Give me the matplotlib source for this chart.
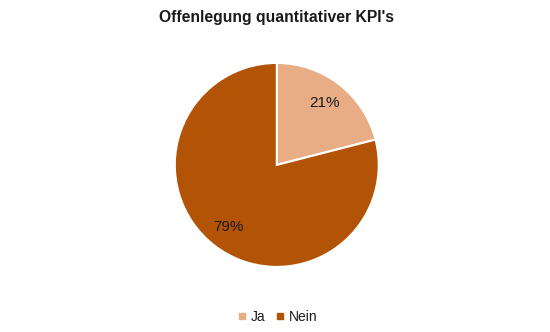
import matplotlib.pyplot as plt
from matplotlib.lines import Line2D

plt.rcParams['font.family'] = ['Liberation Sans', 'DejaVu Sans']

labels = ['Ja', 'Nein']
shares = [21, 79]
colors = ['#E8AD84', '#B35306']

fig = plt.figure(figsize=(5.5, 3.32), dpi=100)
ax = fig.add_axes([0.316, 0.193, 0.3745, 0.6205])

ax.pie(shares, colors=colors, startangle=90, counterclock=False,
       autopct='%d%%', pctdistance=0.77,
       wedgeprops={'edgecolor': 'white', 'linewidth': 1.5},
       textprops={'fontsize': 11, 'color': '#1a1a1a'})
ax.set_xlim(-1.01, 1.01)
ax.set_ylim(-1.01, 1.01)
ax.set_aspect('auto')

fig.text(0.503, 0.946, "Offenlegung quantitativer KPI's", ha='center', va='center',
         fontsize=11.3, fontweight='bold', color='#1a1a1a')

handles = [Line2D([], [], marker='s', linestyle='', markersize=4.5,
                  markerfacecolor=c, markeredgecolor=c) for c in colors]
fig.legend(handles, labels, loc='center', bbox_to_anchor=(0.505, 0.045),
           ncol=2, frameon=False, fontsize=10, handlelength=0.6,
           handletextpad=0.3, columnspacing=0.8, labelcolor='#1a1a1a')

fig.savefig('out.png', dpi=100)
